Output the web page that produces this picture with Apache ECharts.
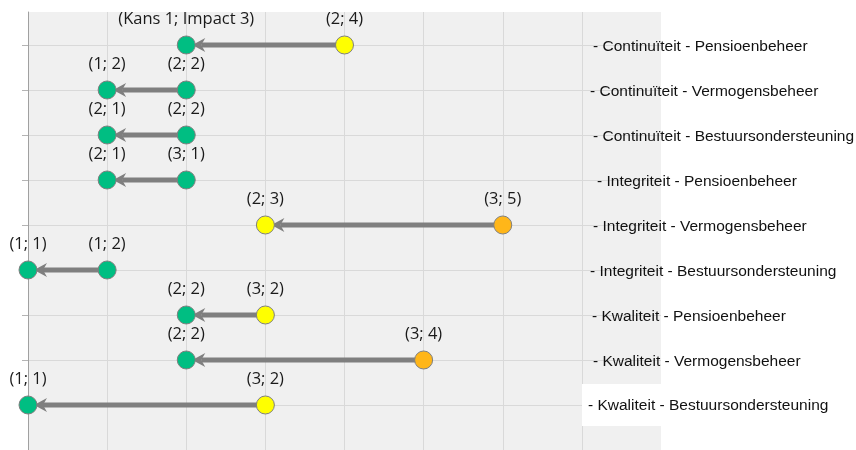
<!DOCTYPE html>
<html>
<head>
<meta charset="utf-8">
<script src="https://cdn.jsdelivr.net/npm/echarts@6/dist/echarts.min.js"></script>
<style>
  html, body { margin: 0; padding: 0; background: #ffffff; }
  #chart { width: 856px; height: 450px; }
</style>
</head>
<body>
<div id="chart"></div>
<script>
// Risks, listed top to bottom
const riskNames = [
  '- Continuïteit - Pensioenbeheer',
  '- Continuïteit - Vermogensbeheer',
  '- Continuïteit - Bestuursondersteuning',
  '- Integriteit - Pensioenbeheer',
  '- Integriteit - Vermogensbeheer',
  '- Integriteit - Bestuursondersteuning',
  '- Kwaliteit - Pensioenbeheer',
  '- Kwaliteit - Vermogensbeheer',
  '- Kwaliteit - Bestuursondersteuning'
];

// Gross assessment (Kans; Impact) – arrow start
const fromKans   = [2, 2, 2, 3, 3, 1, 3, 3, 3];
const fromImpact = [4, 2, 2, 1, 5, 2, 2, 4, 2];

// Net assessment (Kans; Impact) – arrow end
const toKans     = [1, 1, 2, 2, 2, 1, 2, 2, 1];
const toImpact   = [3, 2, 1, 1, 3, 1, 2, 2, 1];

// Rows whose end point carries the spelled-out label
const longLabelRows = [0];

// Horizontal position = Kans + Impact; gridlines at each score
const scoreMin = 2;
const scoreMax = 10;
const scoreLines = [2, 3, 4, 5, 6, 7, 8, 9];

// ---- styling ----
const GREEN = '#00be82';
const YELLOW = '#ffff00';
const ORANGE = '#ffb619';
const ARROW = '#7f7f7f';
const labelIndent = [11, 8, 11, 15, 11, 8, 10, 11, 6];

function riskColor(kans, impact) {
  const p = kans * impact;
  if (p >= 10) return ORANGE;
  if (p >= 5) return YELLOW;
  return GREEN;
}

const rowValues = riskNames.map((_, i) => i + 1);

const points = [];
riskNames.forEach((_, r) => {
  points.push({
    value: [fromKans[r] + fromImpact[r], r + 1],
    kans: fromKans[r], impact: fromImpact[r], long: false
  });
  points.push({
    value: [toKans[r] + toImpact[r], r + 1],
    kans: toKans[r], impact: toImpact[r], long: longLabelRows.includes(r)
  });
});

const arrows = riskNames.map((_, r) => [
  fromKans[r] + fromImpact[r],
  toKans[r] + toImpact[r],
  r + 1
]);

const rich = {};
labelIndent.forEach((pad, i) => {
  rich['r' + i] = {
    fontFamily: 'Liberation Sans, Arial, sans-serif',
    fontSize: 15.5,
    color: '#111111',
    padding: [3, 0, 0, pad]
  };
});
// last row label sits on a white box
rich.r8 = {
  fontFamily: 'Liberation Sans, Arial, sans-serif',
  fontSize: 15.5,
  color: '#111111',
  backgroundColor: '#ffffff',
  padding: [14, 40, 12, labelIndent[8]]
};

const chart = echarts.init(document.getElementById('chart'), null, { renderer: 'canvas' });

chart.setOption({
  animation: false,
  backgroundColor: '#ffffff',
  grid: {
    left: 28, right: 195, top: 12, bottom: 0,
    containLabel: false,
    outerBoundsMode: 'none',
    show: true, backgroundColor: '#f0f0f0', borderWidth: 0
  },
  xAxis: {
    type: 'value',
    min: scoreMin, max: scoreMax, interval: 1,
    axisLabel: { show: false },
    axisLine: { show: false },
    axisTick: { show: false, customValues: scoreLines },
    splitLine: { show: true, lineStyle: { color: '#d9d9d9', width: 1 } }
  },
  yAxis: [
    {
      type: 'value',
      inverse: true,
      min: 0.267, max: 10,
      axisLine: { show: true, lineStyle: { color: '#a0a0a0', width: 1 } },
      axisTick: { show: true, length: 6, customValues: rowValues, lineStyle: { color: '#b4b4b4' } },
      axisLabel: { show: false },
      splitLine: { show: true, lineStyle: { color: '#d9d9d9', width: 1 } }
    },
    {
      type: 'value',
      inverse: true,
      min: 0.267, max: 10,
      position: 'right',
      offset: -79,
      axisLine: { show: false },
      axisTick: { show: false },
      splitLine: { show: false },
      axisLabel: {
        show: true,
        customValues: rowValues,
        align: 'left',
        margin: 0,
        formatter: (v) => {
          const i = Math.round(v) - 1;
          return '{r' + i + '|' + riskNames[i] + '}';
        },
        rich: rich
      }
    }
  ],
  series: [
    {
      type: 'custom',
      coordinateSystem: 'cartesian2d',
      data: arrows,
      encode: { x: [0, 1], y: 2 },
      z: 2,
      silent: true,
      renderItem: (params, api) => {
        const s = api.coord([api.value(0), api.value(2)]);
        const e = api.coord([api.value(1), api.value(2)]);
        const y = e[1];
        const tip = e[0] + 6;
        const back = tip + 13;
        const notch = tip + 9;
        const hw = 7;
        return {
          type: 'group',
          children: [
            {
              type: 'line',
              shape: { x1: s[0], y1: y, x2: notch, y2: y },
              style: { stroke: ARROW, lineWidth: 5 }
            },
            {
              type: 'polygon',
              shape: { points: [[tip, y], [back, y - hw], [notch, y], [back, y + hw]] },
              style: { fill: ARROW }
            }
          ]
        };
      }
    },
    {
      type: 'scatter',
      data: points,
      symbol: 'circle',
      symbolSize: 18,
      z: 3,
      itemStyle: {
        color: (p) => riskColor(p.data.kans, p.data.impact),
        borderColor: '#7f7f7f',
        borderWidth: 1,
        opacity: 1
      },
      label: {
        show: true,
        position: 'top',
        distance: 8,
        fontFamily: '"Open Sans", Lato, sans-serif',
        fontSize: 16.5,
        color: '#1a1a1a',
        formatter: (p) => p.data.long
          ? '(Kans ' + p.data.kans + '; Impact ' + p.data.impact + ')'
          : '(' + p.data.kans + '; ' + p.data.impact + ')'
      }
    }
  ]
});
</script>
</body>
</html>
